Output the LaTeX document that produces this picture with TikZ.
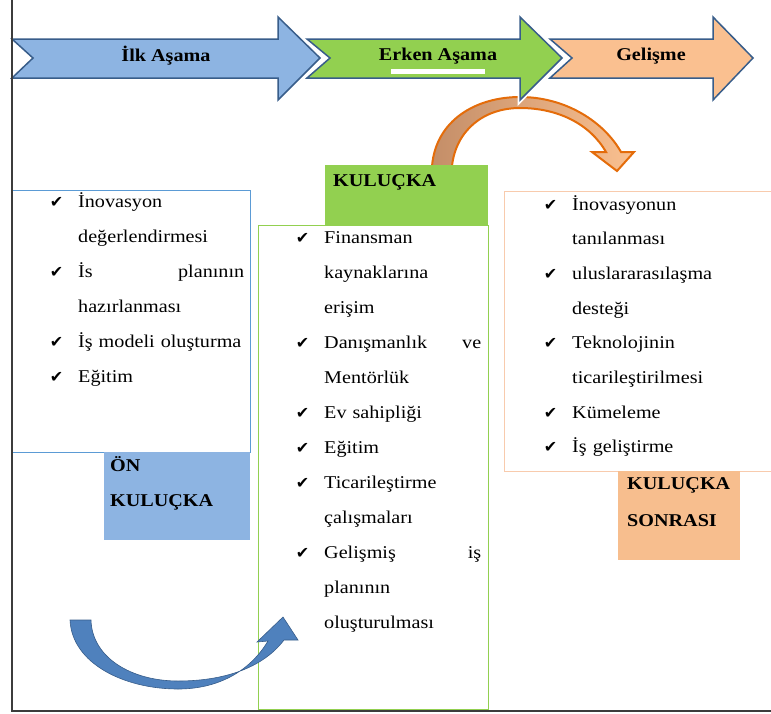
\documentclass[tikz,border=0pt]{standalone}
\usepackage{fontspec}
\usepackage{tikz}
\setmainfont[FakeStretch=1.12]{Liberation Serif}
\newfontfamily\checkfont{DejaVu Sans}
\usetikzlibrary{positioning}
\definecolor{stageblue}{RGB}{141,180,226}
\definecolor{stagegreen}{RGB}{146,208,80}
\definecolor{stageorange}{RGB}{250,192,144}
\definecolor{arrowedge}{RGB}{56,93,138}
\definecolor{boxblue}{RGB}{91,155,213}
\definecolor{boxorange}{RGB}{248,203,173}
\definecolor{labelorange}{RGB}{247,190,142}
\definecolor{curveblue}{RGB}{79,129,189}
\definecolor{curveorange}{RGB}{228,108,10}
\definecolor{curvebrown}{RGB}{196,142,104}
\definecolor{axisgray}{RGB}{60,60,60}
\newcommand{\chk}{\leavevmode\llap{{\checkfont\fontsize{16}{16}\selectfont ✔}\hspace{15pt}}}

\begin{document}
\begin{tikzpicture}[x=1pt, y=-1pt,
  stagearrow/.style={draw=arrowedge, line width=1.5pt, preaction={draw=white, line width=5pt}},
  stagetext/.style={font={\fontsize{18}{22}\selectfont\bfseries}},
  framebox/.style={draw, line width=0.8pt, fill=white, anchor=north west, inner sep=0pt},
  itemlist/.style={anchor=base west, inner sep=0pt, align=left, font={\fontsize{18}{35}\selectfont}},
  boxlabel/.style={anchor=base west, inner sep=0pt, align=left, font={\fontsize{18}{35}\selectfont\bfseries}}]
\clip (0,0) rectangle (771,713);

% Orange curved arrow (behind the green label)
\draw[draw=curveorange, line width=2pt, left color=curvebrown, right color=stageorange]
  (432,166) .. controls (436,120) and (476,97) .. (520,97)
  .. controls (566,97) and (604,122) .. (621,152) -- (634,152) -- (617,171) -- (592,152) -- (606,152)
  .. controls (590,124) and (558,108) .. (520,108)
  .. controls (484,108) and (456,130) .. (452,166) -- cycle;

% Stage arrows on top
\draw[stagearrow, fill=stageblue] (12,39) -- (278,39) -- (278,17) -- (320,58) -- (278,100) -- (278,78) -- (12,78) -- (33,58) -- cycle;
\draw[stagearrow, fill=stagegreen] (307,39) -- (520,39) -- (520,17) -- (562,58) -- (520,100) -- (520,78) -- (307,78) -- (330,58) -- cycle;
\draw[stagearrow, fill=stageorange] (550,39) -- (713,39) -- (713,17) -- (753,58) -- (713,100) -- (713,78) -- (550,78) -- (572,58) -- cycle;
\fill[white] (391,69) rectangle (485,74);
\node[stagetext] (ilk) at (166,56) {İlk Aşama};
\node[stagetext] (erken) at (438,56) {Erken Aşama};
\node[stagetext] (gelisme) at (651,56) {Gelişme};

% Pre-incubation
\node[framebox, draw=boxblue, minimum width=238pt, minimum height=262pt] (prebox) at (12,190) {};
\node[framebox, draw=none, fill=stageblue, minimum width=146pt, minimum height=88pt] (onbox) at (104,452) {};
\node[boxlabel, text width=130pt] (onlabel) at (110,471) {ÖN\\KULUÇKA};
\node[itemlist, text width=166pt] (prelist) at (78,207)
  {\chk İnovasyon\\değerlendirmesi\\\chk İs\hfill planının\\hazırlanması\\\chk İş modeli oluşturma\\\chk Eğitim};

% Incubation
\node[framebox, draw=none, fill=stagegreen, minimum width=163pt, minimum height=60pt] (kulbox) at (325,165) {};
\node[boxlabel, text width=150pt] (kullabel) at (333,186) {KULUÇKA};
\node[framebox, draw=stagegreen, minimum width=230pt, minimum height=484pt] (incbox) at (258,225) {};
\node[itemlist, text width=157pt] (inclist) at (324,243)
  {\chk Finansman\\kaynaklarına\\erişim\\\chk Danışmanlık\hfill ve\\Mentörlük\\\chk Ev sahipliği\\\chk Eğitim\\\chk Ticarileştirme\\çalışmaları\\\chk Gelişmiş\hfill iş\\planının\\oluşturulması};

% Post-incubation
\node[framebox, draw=boxorange, minimum width=272pt, minimum height=280pt] (postbox) at (504,191) {};
\node[framebox, draw=none, fill=labelorange, minimum width=122pt, minimum height=89pt] (sonbox) at (618,471) {};
\node[boxlabel, text width=110pt, font={\fontsize{18}{37}\selectfont\bfseries}] (sonlabel) at (627,489) {KULUÇKA\\SONRASI};
\node[itemlist, text width=190pt, font={\fontsize{18}{34.7}\selectfont}] (postlist) at (572,210)
  {\chk İnovasyonun\\tanılanması\\\chk uluslararasılaşma\\desteği\\\chk Teknolojinin\\ticarileştirilmesi\\\chk Kümeleme\\\chk İş geliştirme};

% Blue curved arrow
\filldraw[fill=curveblue, draw=arrowedge, line width=0.6pt]
  (70,620) .. controls (72,664) and (125,689) .. (178,689)
  .. controls (222,689) and (252,668) .. (268,641) -- (257,642) -- (283,617) -- (298,640) -- (284,640)
  .. controls (262,669) and (222,681) .. (178,681)
  .. controls (132,681) and (92,658) .. (91,620) -- cycle;

% Axes
\coordinate (corner) at (12,711);
\draw[axisgray, line width=1.3pt] (12,0) -- (corner) -- (771,711);
\end{tikzpicture}
\end{document}
